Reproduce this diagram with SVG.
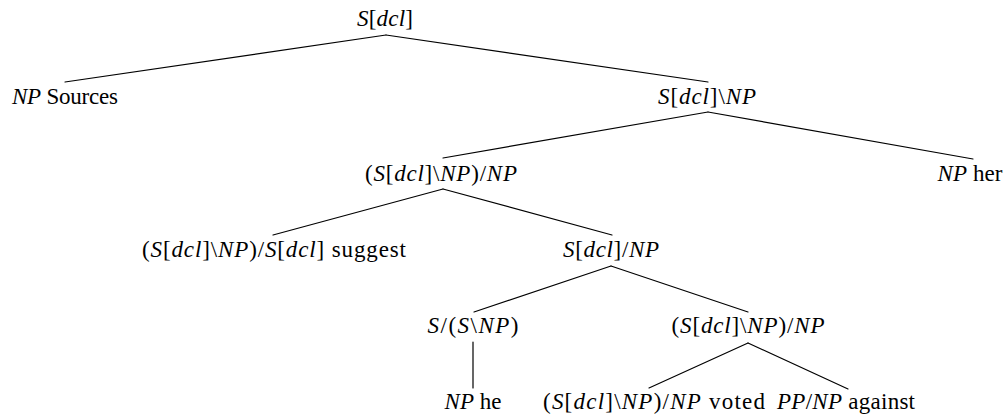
<svg xmlns="http://www.w3.org/2000/svg" width="1008" height="418" viewBox="0 0 1008 418">
  <style>
    text { font-family: "Liberation Serif", "Times New Roman", serif; font-size: 23px; fill: #000; text-anchor: middle; }
    .m { font-style: italic; }
    .edge { stroke: #000; stroke-width: 1.2; fill: none; stroke-linecap: round; }
  </style>
  <rect width="1008" height="418" fill="#fff"/>

  <!-- tree branches -->
  <g id="connectors">
    <line class="edge" x1="386" y1="35" x2="65" y2="82"/>
    <line class="edge" x1="386" y1="35" x2="708" y2="82"/>
    <line class="edge" x1="708" y1="112" x2="443" y2="158"/>
    <line class="edge" x1="708" y1="112" x2="973" y2="159"/>
    <line class="edge" x1="443" y1="189" x2="273" y2="235"/>
    <line class="edge" x1="443" y1="189" x2="612" y2="235"/>
    <line class="edge" x1="611" y1="266" x2="474" y2="312"/>
    <line class="edge" x1="611" y1="266" x2="748" y2="312"/>
    <line class="edge" x1="473" y1="342" x2="473" y2="388"/>
    <line class="edge" x1="748" y1="343" x2="649" y2="388"/>
    <line class="edge" x1="748" y1="343" x2="848" y2="389"/>
  </g>

  <g id="n-root">
    <text x="385" y="26" textLength="56" lengthAdjust="spacing"><tspan class="m">S</tspan>[<tspan class="m">dcl</tspan>]</text>
  </g>
  <g id="n-sources">
    <text x="65" y="104" textLength="106" lengthAdjust="spacing"><tspan class="m">NP</tspan> Sources</text>
  </g>
  <g id="n-vp">
    <text x="707" y="104" textLength="98" lengthAdjust="spacing"><tspan class="m">S</tspan>[<tspan class="m">dcl</tspan>]\<tspan class="m">NP</tspan></text>
  </g>
  <g id="n-tv">
    <text x="441" y="181" textLength="152" lengthAdjust="spacing">(<tspan class="m">S</tspan>[<tspan class="m">dcl</tspan>]\<tspan class="m">NP</tspan>)/<tspan class="m">NP</tspan></text>
  </g>
  <g id="n-her">
    <text x="970" y="181" textLength="65" lengthAdjust="spacing"><tspan class="m">NP</tspan> her</text>
  </g>
  <g id="n-suggest">
    <text x="274" y="257" textLength="264" lengthAdjust="spacing">(<tspan class="m">S</tspan>[<tspan class="m">dcl</tspan>]\<tspan class="m">NP</tspan>)/<tspan class="m">S</tspan>[<tspan class="m">dcl</tspan>] suggest</text>
  </g>
  <g id="n-sdclnp">
    <text x="611" y="257" textLength="96" lengthAdjust="spacing"><tspan class="m">S</tspan>[<tspan class="m">dcl</tspan>]/<tspan class="m">NP</tspan></text>
  </g>
  <g id="n-typeraise">
    <text x="473" y="333" textLength="91" lengthAdjust="spacing"><tspan class="m">S</tspan>/(<tspan class="m">S</tspan>\<tspan class="m">NP</tspan>)</text>
  </g>
  <g id="n-comp">
    <text x="748" y="333" textLength="153" lengthAdjust="spacing">(<tspan class="m">S</tspan>[<tspan class="m">dcl</tspan>]\<tspan class="m">NP</tspan>)/<tspan class="m">NP</tspan></text>
  </g>
  <g id="n-he">
    <text x="473" y="409" textLength="57" lengthAdjust="spacing"><tspan class="m">NP</tspan> he</text>
  </g>
  <g id="n-voted">
    <text x="654" y="409" textLength="222" lengthAdjust="spacing">(<tspan class="m">S</tspan>[<tspan class="m">dcl</tspan>]\<tspan class="m">NP</tspan>)/<tspan class="m">NP</tspan> voted</text>
  </g>
  <g id="n-against">
    <text x="846" y="409" textLength="138" lengthAdjust="spacing"><tspan class="m">PP</tspan>/<tspan class="m">NP</tspan> against</text>
  </g>
</svg>
